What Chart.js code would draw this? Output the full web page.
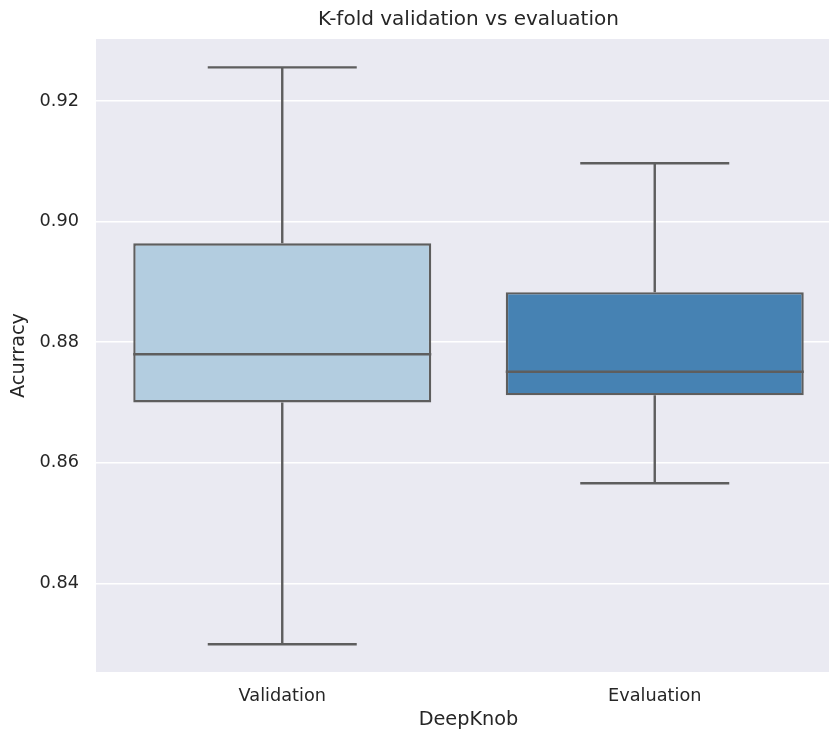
<!DOCTYPE html>
<html>
<head>
<meta charset="utf-8">
<script src="https://cdn.jsdelivr.net/npm/chart.js"></script>
<style>
    html, body { margin: 0; padding: 0; background: #fff; overflow: hidden; }
    .wrap { width: 841px; height: 734px; }
</style>
</head>
<body>
<div class="wrap"><canvas class="box-chart"></canvas></div>
<script>
    var categories = ["Validation", "Evaluation"];
    var whiskerLow = [0.8299, 0.8566];
    var q1 = [0.8700, 0.8712];
    var median = [0.8780, 0.8751];
    var q3 = [0.8964, 0.8883];
    var whiskerHigh = [0.9256, 0.9097];
    var yTicks = [0.84, 0.86, 0.88, 0.90, 0.92];
    var boxColors = ["#b3cde0", "#4682b3"];

    var lineColor = "#5e5e5e";
    var textColor = "#262626";

    Chart.defaults.font.family = "'DejaVu Sans', sans-serif";
    Chart.defaults.color = textColor;

    // seaborn-like grey panel behind the plot
    var panelPlugin = {
        id: "panel",
        beforeDraw: function(chart) {
            var a = chart.chartArea, ctx = chart.ctx;
            ctx.save();
            ctx.fillStyle = "#eaeaf2";
            ctx.fillRect(a.left, a.top, a.right - a.left, a.bottom - a.top);
            ctx.restore();
        }
    };

    // whiskers, caps and medians, placed through the chart scales
    var whiskerPlugin = {
        id: "whiskers",
        afterDatasetsDraw: function(chart) {
            var ctx = chart.ctx, y = chart.scales.y;
            var bars = chart.getDatasetMeta(0).data;
            ctx.save();
            ctx.strokeStyle = lineColor;
            ctx.lineWidth = 2.4;
            ctx.lineCap = "butt";
            bars.forEach(function(bar, i) {
                var half = bar.width / 2, x = bar.x;
                var capHalf = half / 2;
                ctx.beginPath();
                ctx.moveTo(x, y.getPixelForValue(q3[i]));
                ctx.lineTo(x, y.getPixelForValue(whiskerHigh[i]));
                ctx.moveTo(x, y.getPixelForValue(q1[i]));
                ctx.lineTo(x, y.getPixelForValue(whiskerLow[i]));
                ctx.moveTo(x - capHalf, y.getPixelForValue(whiskerHigh[i]));
                ctx.lineTo(x + capHalf, y.getPixelForValue(whiskerHigh[i]));
                ctx.moveTo(x - capHalf, y.getPixelForValue(whiskerLow[i]));
                ctx.lineTo(x + capHalf, y.getPixelForValue(whiskerLow[i]));
                ctx.moveTo(x - half, y.getPixelForValue(median[i]));
                ctx.lineTo(x + half, y.getPixelForValue(median[i]));
                ctx.stroke();
            });
            ctx.restore();
        }
    };

    new Chart(document.getElementsByClassName("box-chart")[0].getContext("2d"), {
        type: "bar",
        data: {
            labels: categories,
            datasets: [{
                label: "Acurracy",
                data: categories.map(function(c, i) { return [q1[i], q3[i]]; }),
                backgroundColor: boxColors,
                borderColor: lineColor,
                borderWidth: 2.4,
                borderSkipped: false,
                barPercentage: 0.8,
                categoryPercentage: 1.0
            }]
        },
        options: {
            responsive: true,
            maintainAspectRatio: false,
            animation: false,
            layout: { padding: 0 },
            plugins: {
                legend: { display: false },
                tooltip: { enabled: false },
                title: {
                    display: true,
                    fullSize: false,
                    text: "K-fold validation vs evaluation",
                    color: textColor,
                    font: { size: 20, weight: "normal" },
                    padding: { top: 8, bottom: 7 }
                }
            },
            scales: {
                x: {
                    grid: { display: false, drawTicks: false },
                    border: { display: false },
                    ticks: { font: { size: 17.7 }, color: textColor, padding: 14 },
                    title: {
                        display: true,
                        text: "DeepKnob",
                        color: textColor,
                        font: { size: 19.3 },
                        padding: { top: 0, bottom: 2 }
                    },
                    afterFit: function(scale) { scale.height = 62; }
                },
                y: {
                    min: 0.8253,
                    max: 0.9303,
                    grid: { color: "#ffffff", lineWidth: 1.6, drawTicks: false },
                    border: { display: false },
                    afterBuildTicks: function(scale) {
                        scale.ticks = yTicks.map(function(v) { return { value: v }; });
                    },
                    ticks: {
                        font: { size: 17.7 },
                        color: textColor,
                        padding: 17,
                        callback: function(value) { return value.toFixed(2); }
                    },
                    title: {
                        display: true,
                        text: "Acurracy",
                        color: textColor,
                        font: { size: 19.3 },
                        padding: { top: 7, bottom: 0 }
                    },
                    afterFit: function(scale) { scale.width = 96; }
                }
            }
        },
        plugins: [panelPlugin, whiskerPlugin]
    });
</script>
</body>
</html>
